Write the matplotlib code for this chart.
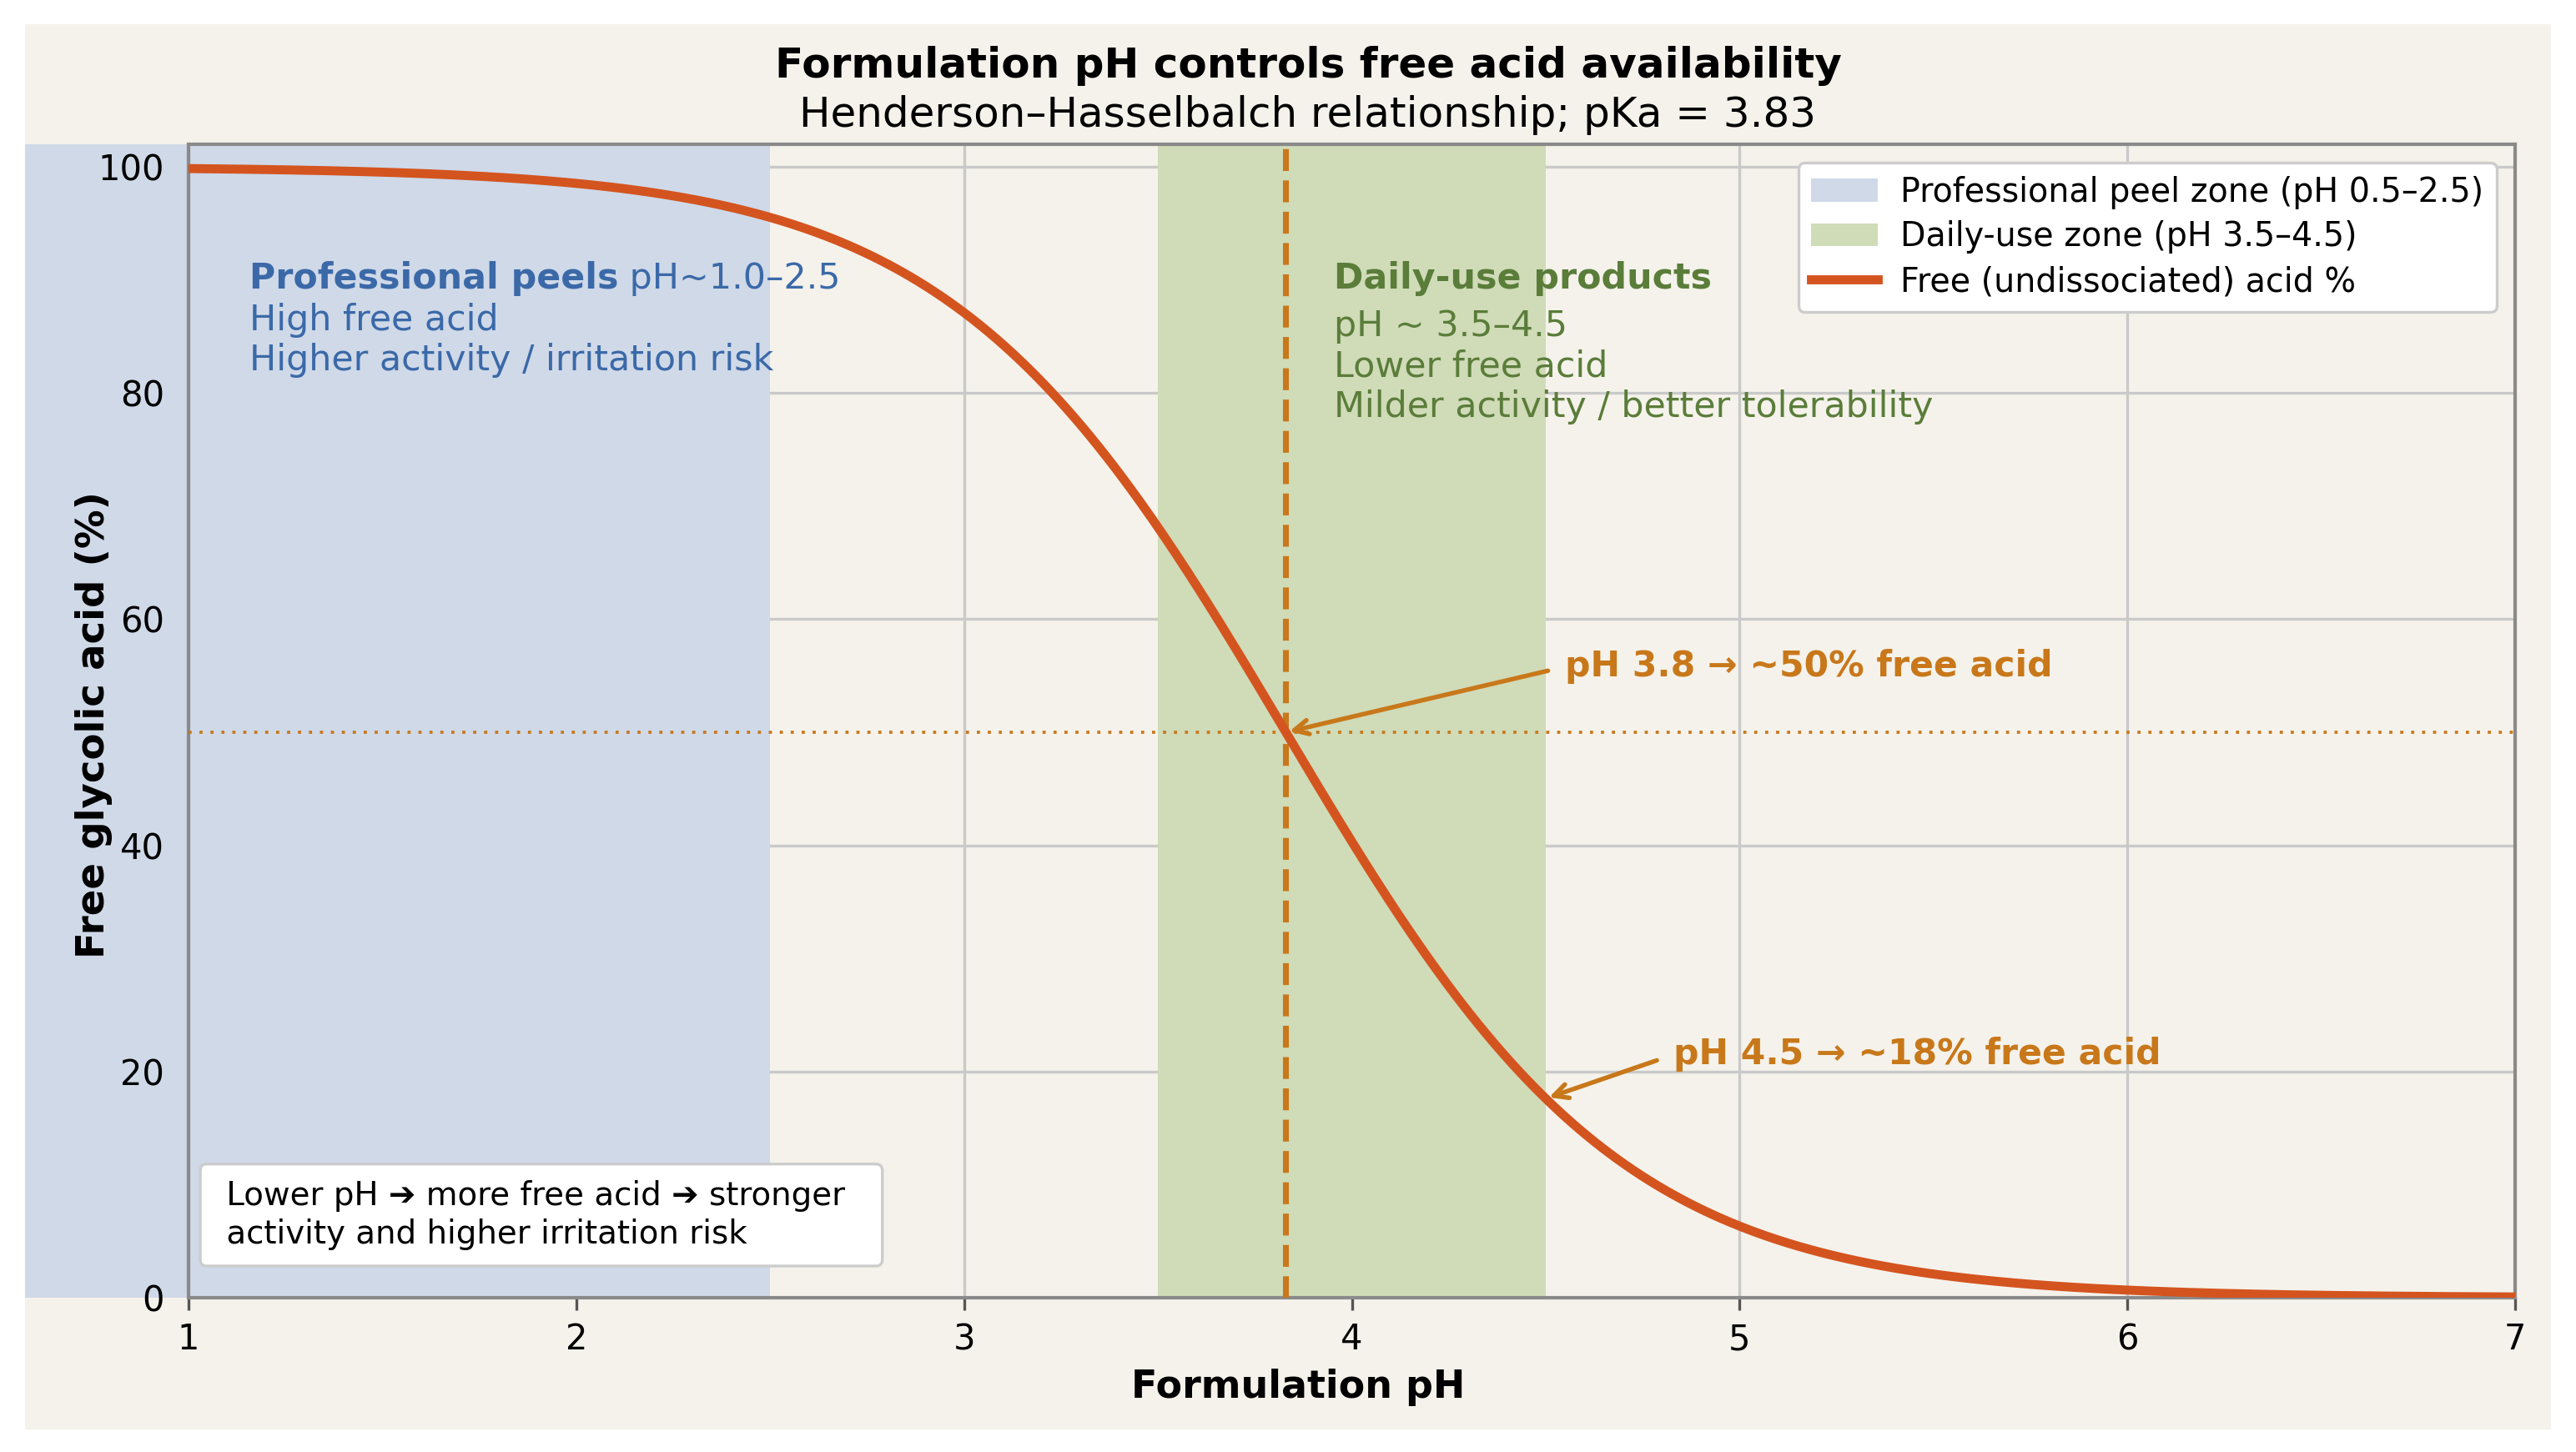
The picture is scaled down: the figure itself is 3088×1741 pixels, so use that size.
import numpy as np
import matplotlib
matplotlib.use("Agg")
import matplotlib.pyplot as plt
from matplotlib.patches import Rectangle, Patch
from matplotlib.lines import Line2D

# ---- data ----
pKa = 3.83
ph_min, ph_max = 1.0, 7.0
peel_zone = (0.5, 2.5)
daily_zone = (3.5, 4.5)
x_ticks = [1, 2, 3, 4, 5, 6, 7]
y_ticks = [0, 20, 40, 60, 80, 100]
annot_points = [3.83, 4.5]
annot_labels = ["pH 3.8 \u2192 ~50% free acid", "pH 4.5 \u2192 ~18% free acid"]
annot_text_pos = [(4.55, 55.8), (4.83, 21.5)]

ph = np.linspace(ph_min, ph_max, 600)
free_pct = 100.0 / (1.0 + 10 ** (ph - pKa))

# ---- colours ----
BG = "#f5f2eb"
BLUE_ZONE = "#cfd9e8"
GREEN_ZONE = "#d0dbb8"
CURVE = "#d4541f"
ORANGE = "#c8781a"
GREEN_TXT = "#5a7d3a"
BLUE_TXT = "#3b69a8"

plt.rcParams["font.family"] = ["DejaVu Sans"]

W, H, DPI = 3088, 1741, 300
fig = plt.figure(figsize=(W / DPI, H / DPI), dpi=DPI, facecolor="white")

AX_L, AX_R, AX_T, AX_B = 226, 3015, 173, 1556

bg = Rectangle((30 / W, 1 - 1714 / H), 3028 / W, 1685 / H, transform=fig.transFigure,
               facecolor=BG, edgecolor="none", zorder=-10)
fig.patches.append(bg)
# part of the peel zone that spills to the left of the axes
spill = Rectangle((30 / W, 1 - AX_B / H), (AX_L - 30) / W, (AX_B - AX_T) / H,
                  transform=fig.transFigure, facecolor=BLUE_ZONE, edgecolor="none", zorder=-5)
fig.patches.append(spill)

ax = fig.add_axes([AX_L / W, 1 - AX_B / H, (AX_R - AX_L) / W, (AX_B - AX_T) / H])
ax.set_facecolor(BG)
ax.set_axisbelow(True)
ax.grid(True, color="#c9c9c9", linewidth=0.8)

ax.axvspan(peel_zone[0], peel_zone[1], color=BLUE_ZONE, lw=0, zorder=1)
ax.axvspan(daily_zone[0], daily_zone[1], color=GREEN_ZONE, lw=0, zorder=1)

ax.axvline(pKa, color=ORANGE, lw=1.7, ls="--", zorder=3)
ax.axhline(50, color=ORANGE, lw=0.9, ls=(0, (1, 2.5)), zorder=3)

ax.plot(ph, free_pct, color=CURVE, lw=2.6, zorder=4)

ax.set_xlim(ph_min, ph_max)
ax.set_ylim(0, 102)
ax.set_xticks(x_ticks)
ax.set_yticks(y_ticks)
ax.tick_params(axis="both", labelsize=10, color="#555555", width=0.8)
ax.tick_params(axis="y", length=0, pad=7)
for s in ax.spines.values():
    s.set_color("#8a8a8a")
    s.set_linewidth(1.0)

ax.set_ylabel("Free glycolic acid (%)", fontsize=11.2, fontweight="bold")
ax.yaxis.set_label_coords(-0.0326, 0.497)

fig.text(1556 / W, 1 - 1663 / H, "Formulation pH", fontsize=11, fontweight="bold",
         ha="center", va="center")
fig.text(1568 / W, 1 - 79 / H, "Formulation pH controls free acid availability",
         fontsize=12, fontweight="bold", ha="center", va="center")
fig.text(1568 / W, 1 - 138 / H, "Henderson\u2013Hasselbalch relationship; pKa = 3.83",
         fontsize=12, ha="center", va="center")

# zone texts
FS_ZONE = 10.25
t1 = ax.text(1.157, 90.1, "Professional peels", color=BLUE_TXT, fontsize=FS_ZONE,
             fontweight="bold", va="center", ha="left", zorder=5)
ax.annotate(" pH~1.0\u20132.5", xy=(1, 0), xycoords=t1, va="bottom", ha="left",
            color=BLUE_TXT, fontsize=FS_ZONE, zorder=5)
ax.text(1.157, 88.0, "High free acid\nHigher activity / irritation risk", color=BLUE_TXT,
        fontsize=FS_ZONE, va="top", ha="left", linespacing=1.2, zorder=5)

ax.text(3.954, 90.1, "Daily-use products", color=GREEN_TXT, fontsize=FS_ZONE,
        fontweight="bold", va="center", ha="left", zorder=5)
ax.text(3.954, 87.5, "pH ~ 3.5\u20134.5\nLower free acid\nMilder activity / better tolerability",
        color=GREEN_TXT, fontsize=FS_ZONE, va="top", ha="left", linespacing=1.2, zorder=5)

for xp, lab, (tx, ty) in zip(annot_points, annot_labels, annot_text_pos):
    yp = 100.0 / (1.0 + 10 ** (xp - pKa))
    ax.annotate(lab, xy=(xp, yp), xytext=(tx, ty), color=ORANGE, fontsize=10.2,
                fontweight="bold", va="center", ha="left", zorder=6,
                arrowprops=dict(arrowstyle="->", color=ORANGE, lw=1.3,
                                shrinkA=3, shrinkB=1, relpos=(0, 0.5)))

ax.text(0.012, 0.0415,
        " Lower pH \u2794 more free acid \u2794 stronger  \n activity and higher irritation risk",
        transform=ax.transAxes, fontsize=9.3, ha="left", va="bottom", zorder=7,
        linespacing=1.25,
        bbox=dict(boxstyle="round,pad=0.5,rounding_size=0.2", facecolor="white",
                  edgecolor="#cccccc", linewidth=0.8))

handles = [Patch(facecolor=BLUE_ZONE, edgecolor="none"),
           Patch(facecolor=GREEN_ZONE, edgecolor="none"),
           Line2D([0], [0], color=CURVE, lw=2.6)]
labels = ["Professional peel zone (pH 0.5\u20132.5)", "Daily-use zone (pH 3.5\u20134.5)",
          "Free (undissociated) acid %"]
leg = ax.legend(handles, labels, loc="upper right", fontsize=9.5, frameon=True,
                fancybox=True, framealpha=1.0, edgecolor="#cccccc",
                borderaxespad=0.55, handlelength=2.0, handletextpad=0.7,
                labelspacing=0.35, borderpad=0.4)
leg.get_frame().set_linewidth(0.8)
leg.set_zorder(8)

fig.savefig("out.png", dpi=DPI, facecolor="white")
